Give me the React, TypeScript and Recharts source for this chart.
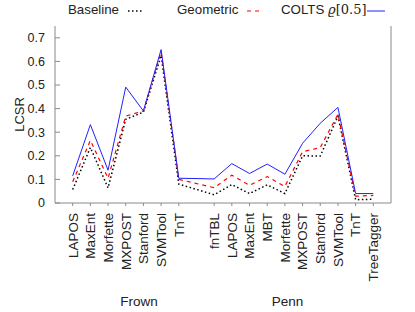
import { CartesianGrid, Line, LineChart, XAxis, YAxis } from "recharts";

// taggers per corpus (Frown occupies x=1..7, slot 8 empty, Penn x=9..18)
const FROWN_TAGGERS = ["LAPOS", "MaxEnt", "Morfette", "MXPOST", "Stanford", "SVMTool", "TnT"];
const PENN_TAGGERS = ["fnTBL", "LAPOS", "MaxEnt", "MBT", "Morfette", "MXPOST", "Stanford", "SVMTool", "TnT", "TreeTagger"];

const BASELINE_FROWN = [0.057, 0.235, 0.064, 0.355, 0.385, 0.625, 0.08];
const GEOMETRIC_FROWN = [0.09, 0.265, 0.105, 0.368, 0.39, 0.64, 0.1];
const COLTS_FROWN = [0.115, 0.332, 0.139, 0.491, 0.39, 0.65, 0.105];

const BASELINE_PENN = [0.035, 0.078, 0.04, 0.077, 0.04, 0.2, 0.199, 0.368, 0.014, 0.016];
const GEOMETRIC_PENN = [0.065, 0.118, 0.075, 0.112, 0.07, 0.217, 0.235, 0.376, 0.029, 0.032];
const COLTS_PENN = [0.102, 0.167, 0.125, 0.165, 0.122, 0.253, 0.338, 0.405, 0.04, 0.04];

const Y_TICKS = [0, 0.1, 0.2, 0.3, 0.4, 0.5, 0.6, 0.7];
const GROUPS = ["Frown", "Penn"];
const GROUP_AT = [4.75, 13.15];

const PENN_OFFSET = FROWN_TAGGERS.length + 2;

const rows = [
  ...FROWN_TAGGERS.map((name, i) => ({
    x: i + 1, name, baseline: BASELINE_FROWN[i], geometric: GEOMETRIC_FROWN[i], colts: COLTS_FROWN[i],
  })),
  ...PENN_TAGGERS.map((name, i) => ({
    x: i + PENN_OFFSET, name, baseline: BASELINE_PENN[i], geometric: GEOMETRIC_PENN[i], colts: COLTS_PENN[i],
  })),
];

const FONT = '"Liberation Sans", Arial, sans-serif';
const FRAME = "#8a8a8a";
const TXT = "#222";

function CatTick({ x, y, payload }: any) {
  const row = rows.find((r) => r.x === payload.value);
  return (
    <text x={x} y={y} dy="0.36em" textAnchor="end" transform={`rotate(-90, ${x}, ${y})`}
      fontSize={13.5} fontFamily={FONT} fill={TXT}>
      {row ? row.name : ""}
    </text>
  );
}

function GroupTick({ x, y, payload }: any) {
  const i = GROUP_AT.indexOf(payload.value);
  return (
    <text x={x} y={y} dy="0.36em" textAnchor="middle" fontSize={13.5} fontFamily={FONT} fill={TXT}>
      {GROUPS[i]}
    </text>
  );
}

function LegendBar() {
  const txt: React.CSSProperties = { position: "absolute", top: 2, fontFamily: FONT, fontSize: 13.3, color: TXT, whiteSpace: "nowrap" };
  return (
    <>
      <span style={{ ...txt, left: 68 }}>Baseline</span>
      <svg style={{ position: "absolute", left: 127, top: 4 }} width={18} height={14}>
        <line x1={1} y1={7} x2={17} y2={7} stroke="#000" strokeWidth={1.5} strokeDasharray="1.5 2.5" />
      </svg>
      <span style={{ ...txt, left: 177 }}>Geometric</span>
      <svg style={{ position: "absolute", left: 246, top: 4 }} width={16} height={14}>
        <line x1={1} y1={7} x2={15} y2={7} stroke="#f00" strokeWidth={1.2} strokeDasharray="4 4" />
      </svg>
      <span style={{ ...txt, left: 281 }}>
        COLTS{" "}
        <span style={{ fontFamily: '"DejaVu Serif", "Liberation Serif", serif', fontSize: 13 }}>
          <i>ϱ</i>[0.5]
        </span>
      </span>
      <svg style={{ position: "absolute", left: 366, top: 4 }} width={20} height={14}>
        <line x1={1} y1={7} x2={19} y2={7} stroke="#2020ff" strokeWidth={1} />
      </svg>
    </>
  );
}

export default function App() {
  return (
    <div style={{ position: "absolute", left: 0, top: 0, width: 415, height: 312, background: "#fff" }}>
      <LegendBar />
      <LineChart width={415} height={312} data={rows} margin={{ top: 26, right: 0, left: 0, bottom: 0 }}>
        <CartesianGrid stroke="none" />
        <XAxis xAxisId="top" orientation="top" dataKey="x" type="number" domain={[0, 19]} height={0}
          tick={false} tickLine={false} stroke={FRAME} />
        <XAxis xAxisId="cat" dataKey="x" type="number" domain={[0, 19]} ticks={rows.map((r) => r.x)}
          interval={0} height={80} stroke={FRAME} tickSize={3} tickMargin={7} tick={<CatTick />} />
        <XAxis xAxisId="grp" dataKey="x" type="number" domain={[0, 19]} ticks={GROUP_AT} interval={0}
          height={29} axisLine={false} tickLine={false} tickSize={0} tickMargin={18} tick={<GroupTick />} />
        <YAxis yAxisId="left" type="number" domain={[0, 0.75]} ticks={Y_TICKS} interval={0} width={55}
          stroke={FRAME} tickSize={-5} tickMargin={15}
          tick={{ fontSize: 12.5, fontFamily: FONT, fill: TXT }}
          tickFormatter={(v: number) => (v === 0 ? "0" : v.toFixed(1))}
          label={{
            content: ({ viewBox }: any) => {
              const cx = 19;
              const cy = viewBox.y + viewBox.height / 2;
              return (
                <text x={cx} y={cy} dy="0.36em" textAnchor="middle" transform={`rotate(-90, ${cx}, ${cy})`}
                  fontSize={13} fontFamily={FONT} fill={TXT}>
                  LCSR
                </text>
              );
            },
          }} />
        <YAxis yAxisId="right" orientation="right" type="number" domain={[0, 0.75]} ticks={Y_TICKS}
          interval={0} width={24} stroke={FRAME} tickSize={-5} tick={() => <g />} />
        <Line xAxisId="cat" yAxisId="left" dataKey="baseline" stroke="#000" strokeWidth={1.5}
          strokeDasharray="1.5 2.5" dot={false} isAnimationActive={false} />
        <Line xAxisId="cat" yAxisId="left" dataKey="geometric" stroke="#f00" strokeWidth={1.2}
          strokeDasharray="4 4" dot={false} isAnimationActive={false} />
        <Line xAxisId="cat" yAxisId="left" dataKey="colts" stroke="#2020ff" strokeWidth={1}
          dot={false} isAnimationActive={false} />
      </LineChart>
    </div>
  );
}
